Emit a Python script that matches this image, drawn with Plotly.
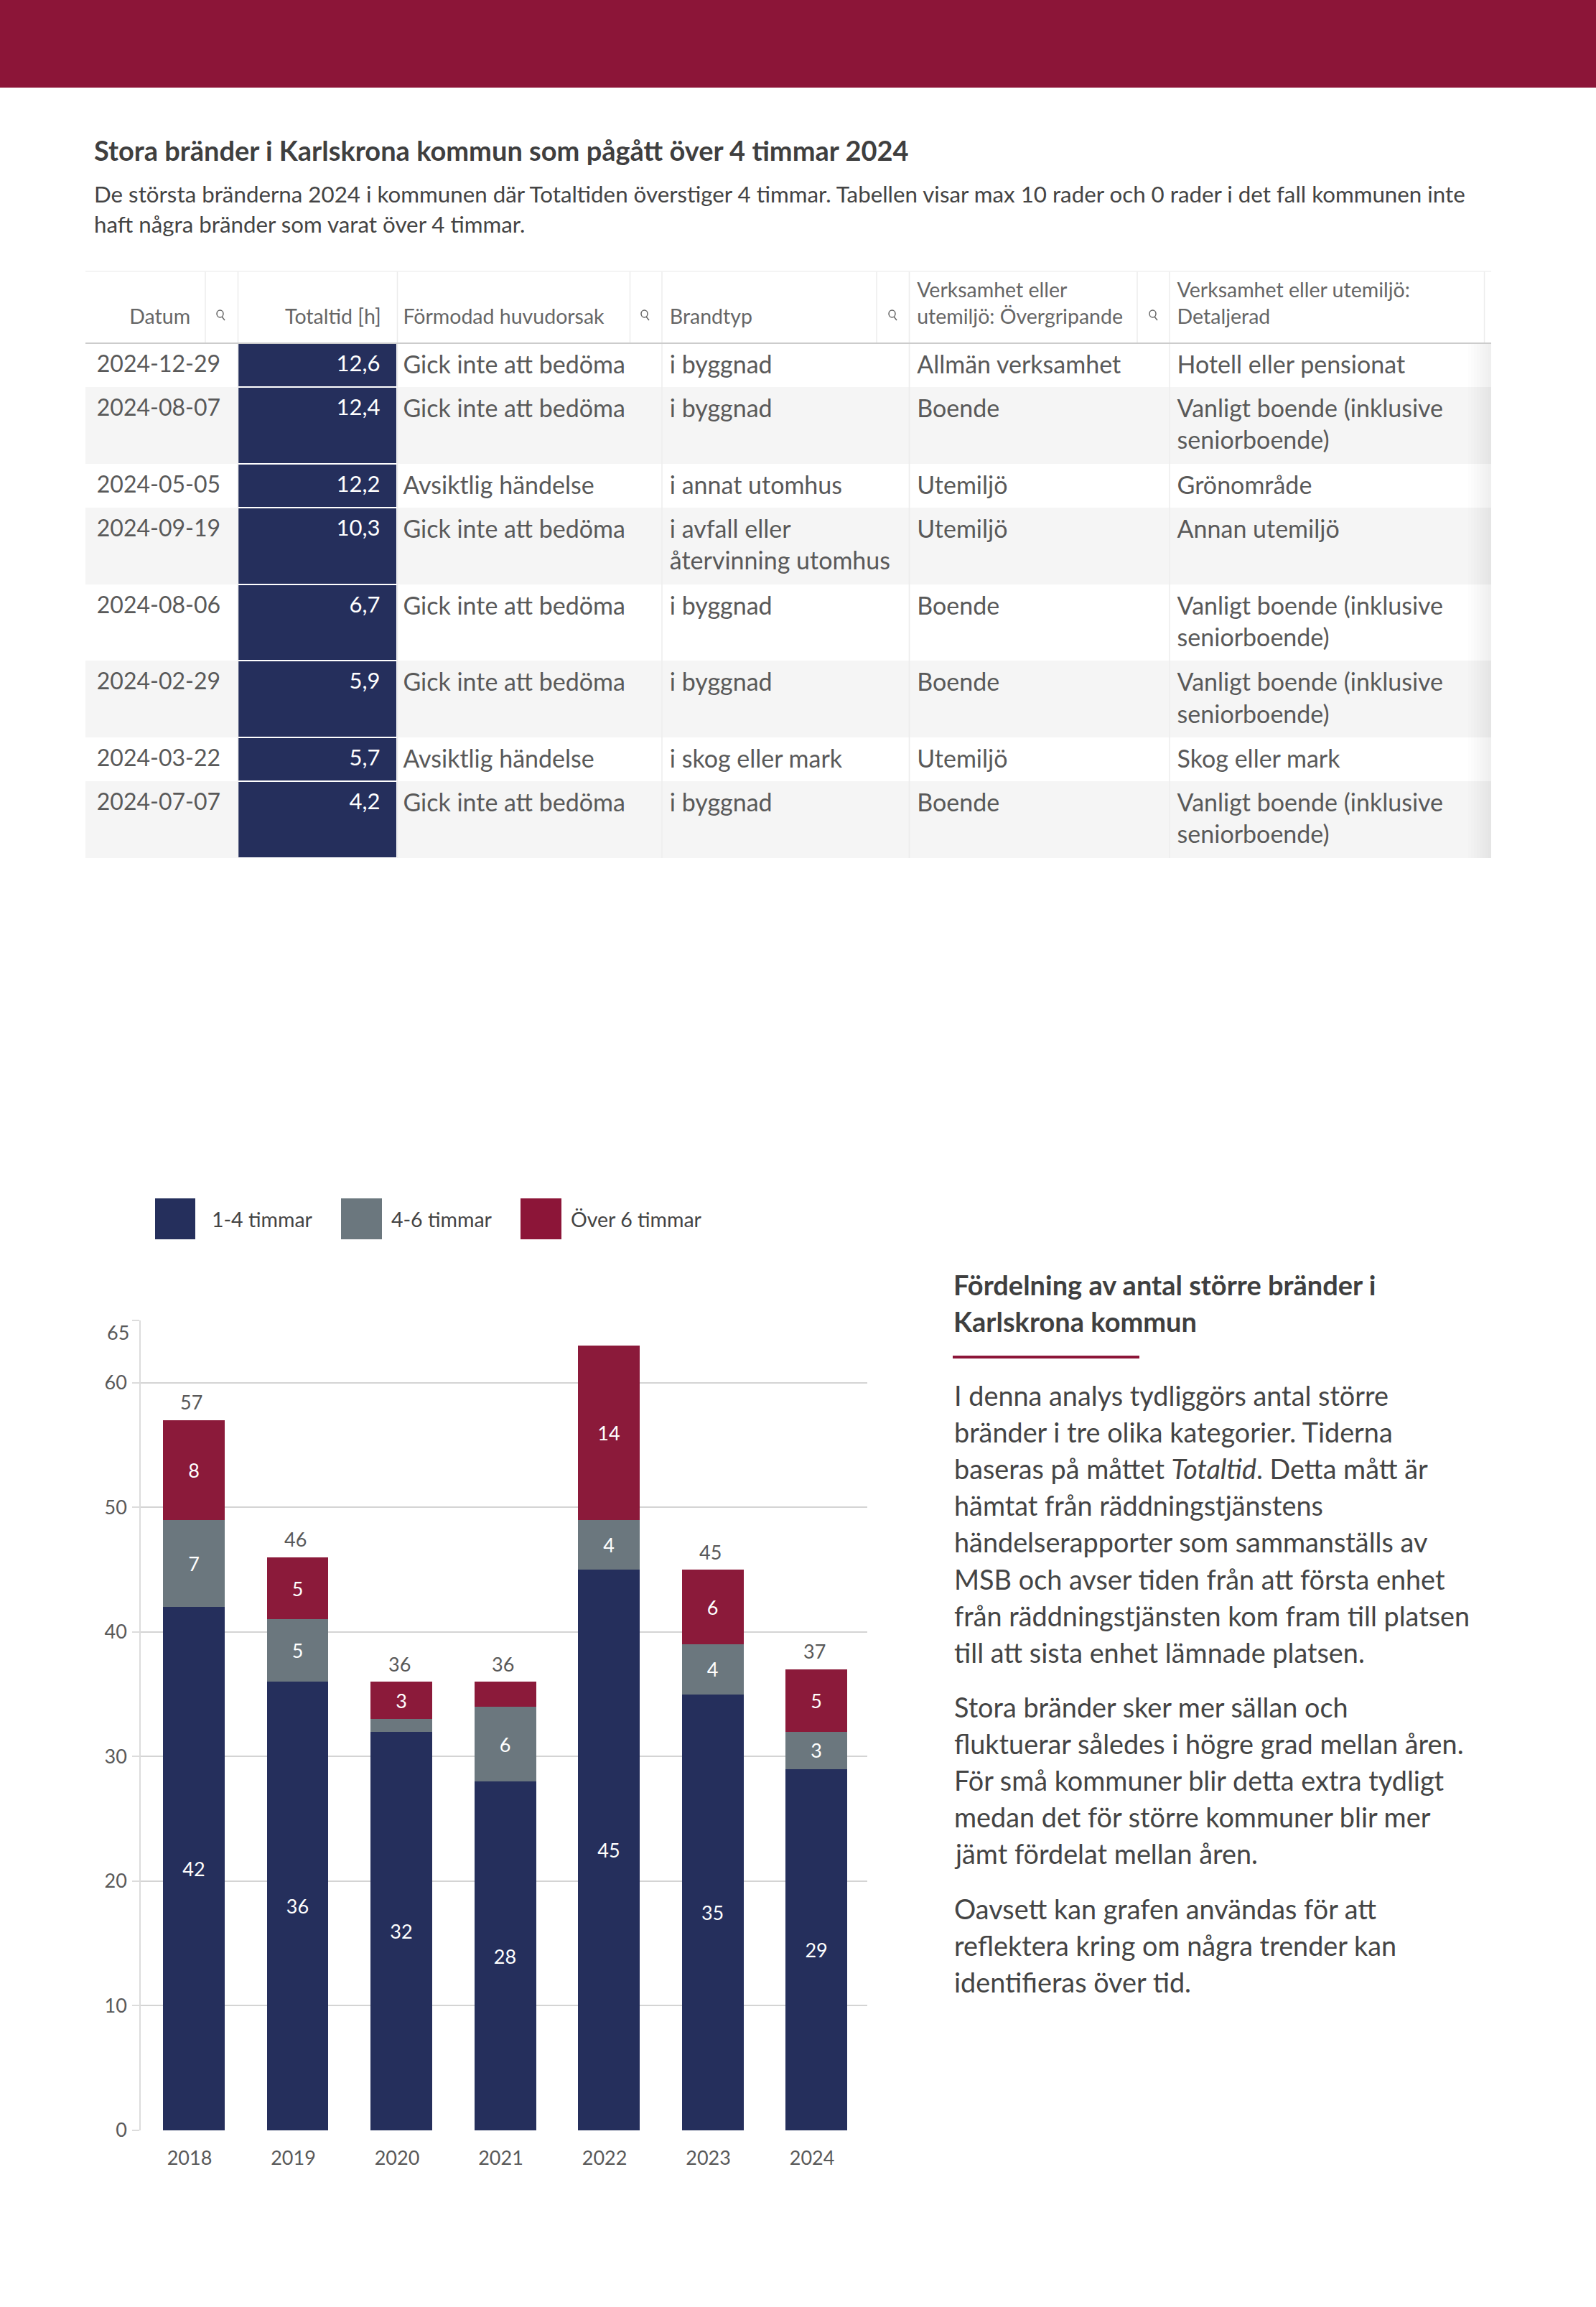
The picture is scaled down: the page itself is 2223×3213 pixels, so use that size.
import plotly.graph_objects as go

W, H = 2223, 3213
FONT = "Lato"
NAVY, GREY, CRIMSON = "#252f5c", "#6b777e", "#8b1a3a"
BANNER = "#8c1538"
TXT = "#595959"
DARK = "#3f3f3f"

# ---- table data
dates = ["2024-12-29","2024-08-07","2024-05-05","2024-09-19","2024-08-06","2024-02-29","2024-03-22","2024-07-07"]
totaltid = ["12,6","12,4","12,2","10,3","6,7","5,9","5,7","4,2"]
orsak = ["Gick inte att bedöma","Gick inte att bedöma","Avsiktlig händelse","Gick inte att bedöma","Gick inte att bedöma","Gick inte att bedöma","Avsiktlig händelse","Gick inte att bedöma"]
brandtyp = ["i byggnad","i byggnad","i annat utomhus","i avfall eller<br>återvinning utomhus","i byggnad","i byggnad","i skog eller mark","i byggnad"]
overgrip = ["Allmän verksamhet","Boende","Utemiljö","Utemiljö","Boende","Boende","Utemiljö","Boende"]
VB = "Vanligt boende (inklusive<br>seniorboende)"
detalj = ["Hotell eller pensionat",VB,"Grönområde","Annan utemiljö",VB,VB,"Skog eller mark",VB]
headers = ["\u00a0<br>Datum"+"\u00a0"*8,"\u00a0<br>Totaltid [h]\u00a0\u00a0","\u00a0<br>Förmodad huvudorsak","\u00a0<br>Brandtyp",
           "Verksamhet eller<br>utemiljö: Övergripande","Verksamhet eller utemiljö:<br>Detaljerad",""]

# ---- chart data
years = ["2018","2019","2020","2021","2022","2023","2024"]
h1_4 = [42,36,32,28,45,35,29]
h4_6 = [7,5,1,6,4,4,3]
h6 = [8,5,3,2,14,6,5]
totals_shown = [57,46,36,36,None,45,37]
yticks = [0,10,20,30,40,50,60,65]
series_names = ["1-4 timmar","4-6 timmar","Över 6 timmar"]

title = "Stora bränder i Karlskrona kommun som pågått över 4 timmar 2024"
sub_lines = ["De största bränderna 2024 i kommunen där Totaltiden överstiger 4 timmar. Tabellen visar max 10 rader och 0 rader i det fall kommunen inte",
             "haft några bränder som varat över 4 timmar."]
heading_lines = ["Fördelning av antal större bränder i","Karlskrona kommun"]
para = [
 ["I denna analys tydliggörs antal större","bränder i tre olika kategorier. Tiderna","baseras på måttet <i>Totaltid</i>. Detta mått är",
  "hämtat från räddningstjänstens","händelserapporter som sammanställs av","MSB och avser tiden från att första enhet",
  "från räddningstjänsten kom fram till platsen","till att sista enhet lämnade platsen."],
 ["Stora bränder sker mer sällan och","fluktuerar således i högre grad mellan åren.","För små kommuner blir detta extra tydligt",
  "medan det för större kommuner blir mer","jämt fördelat mellan åren."],
 ["Oavsett kan grafen användas för att","reflektera kring om några trender kan","identifieras över tid."],
]

def px(x): return x / W
def py(y): return 1 - y / H

two_line = ["<br>" in b or "<br>" in d for b, d in zip(brandtyp, detalj)]
def cell_text(col, end=""):
    out = []
    for v, t in zip(col, two_line):
        lines = v.split("<br>")
        if t:
            if len(lines) == 1:
                lines.append("\u00a0")
            out.append("<br>".join(l + end for l in lines))
        else:
            out.append(lines[0] + end + "<br>")
    return out

fig = go.Figure()

cell_vals = [cell_text(dates, "\u00a0\u00a0"), cell_text(totaltid, "\u00a0\u00a0"), cell_text(orsak),
             cell_text(brandtyp), cell_text(overgrip), cell_text(detalj)]
cell_vals.append(["\u00a0<br>\u00a0" if t else "" for t in two_line])   # sets the height of two-line rows

stripe = ["#ffffff" if i % 2 == 0 else "#f5f5f5" for i in range(len(dates))]
aligns = ["right","right","left","left","left","left","left"]
fig.add_trace(go.Table(
    domain=dict(x=[px(119), px(2077)], y=[py(1196), py(378)]),
    columnwidth=[212.5,222,371.5,344.5,362.5,438.5,7],
    header=dict(values=headers, height=100, align=aligns, fill_color="#ffffff", line_width=0,
                font=dict(family=FONT, size=28.5, color="#666666")),
    cells=dict(values=cell_vals, height=61, align=aligns,
               fill_color=[stripe,[NAVY]*len(dates),stripe,stripe,stripe,stripe,stripe],
               line=dict(color=["#ffffff"]*7, width=[0,2,0,0,0,0,0]),
               font=dict(family=FONT, size=[32,31,34,34,34,34,36],
                         color=[TXT,"#ffffff",TXT,TXT,TXT,TXT,TXT])),
))

for name, vals, col in zip(series_names, [h1_4,h4_6,h6], [NAVY,GREY,CRIMSON]):
    fig.add_trace(go.Bar(x=years, y=vals, name=name, marker=dict(color=col, line_width=0), width=0.595,
                         text=[str(v) if v >= 3 else "" for v in vals], textposition="inside",
                         insidetextanchor="middle", textangle=0, constraintext="none",
                         textfont=dict(family=FONT, size=27, color="#ffffff"), showlegend=False,
                         hoverinfo="skip"))

shapes = [dict(type="rect", xref="paper", yref="paper", x0=0, x1=1, y0=py(122), y1=1, fillcolor=BANNER, line_width=0, layer="below")]
def vline(x, y0, y1, c="#ececec", w=1.5):
    shapes.append(dict(type="line", xref="paper", yref="paper", x0=px(x), x1=px(x), y0=py(y0), y1=py(y1), line=dict(color=c, width=w)))
def hline(y, x0, x1, c="#cccccc", w=2):
    shapes.append(dict(type="line", xref="paper", yref="paper", x0=px(x0), x1=px(x1), y0=py(y), y1=py(y), line=dict(color=c, width=w)))

for x in [286,877.5,1221,1584,2067.5]:
    vline(x, 378, 478)
for x in [331.5,553.5,922,1266.5,1629]:
    vline(x, 378, 1195)
hline(378, 119, 2077, "#f0f0f0", 1.5)
hline(478, 119, 2077, "#cccccc", 2)
for x in [308, 899, 1244, 1607]:
    y = 438
    shapes.append(dict(type="circle", xref="paper", yref="paper", x0=px(x-6), x1=px(x+3), y0=py(y+4), y1=py(y-6), line=dict(color="#666666", width=1.5)))
    shapes.append(dict(type="line", xref="paper", yref="paper", x0=px(x+1), x1=px(x+5), y0=py(y+3), y1=py(y+8), line=dict(color="#666666", width=1.5)))
# soft fade at the right edge of the table body
for i in range(8):
    shapes.append(dict(type="rect", xref="paper", yref="paper", x0=px(2045 + i*4), x1=px(2077), y0=py(1195), y1=py(479),
                       fillcolor="rgba(0,0,0,0.006)", line_width=0))

# legend swatches
for (a, b), col in zip([(216,272),(475,532),(725,782)], [NAVY,GREY,BANNER]):
    shapes.append(dict(type="rect", xref="paper", yref="paper", x0=px(a), x1=px(b), y0=py(1726), y1=py(1669), fillcolor=col, line_width=0))
# rule under heading
shapes.append(dict(type="rect", xref="paper", yref="paper", x0=px(1327), x1=px(1587), y0=py(1892), y1=py(1888), fillcolor=BANNER, line_width=0))

ann = []
def text(x, y, s, size, color=DARK, bold=False, anchor="left"):
    ann.append(dict(xref="paper", yref="paper", x=px(x), y=py(y), text=f"<b>{s}</b>" if bold else s, showarrow=False,
                    xanchor=anchor, yanchor="middle", align=anchor,
                    font=dict(family=FONT, size=size, color=color)))
text(129, 209, title, 38, DARK, True)
for i, l in enumerate(sub_lines):
    text(129, 270 + i*41.5, l, 31.3, "#444444")
for x, s in zip([292.5,542.5,793], series_names):
    text(x, 1698, s, 28.5, "#444444")
for i, l in enumerate(heading_lines):
    text(1326, 1789 + i*51, l, 38, DARK, True)
ystart = [1943, 2377, 2658]
for ys, p in zip(ystart, para):
    for i, l in enumerate(p):
        text(1327, ys + i*51.2, l, 37.8, "#444444")
# totals above bars
for i, t in enumerate(totals_shown):
    if t is not None:
        ann.append(dict(xref="x", yref="y", x=i, y=t, text=str(t), showarrow=False, xshift=-3, yshift=25,
                        xanchor="center", yanchor="middle", font=dict(family=FONT, size=27, color=TXT)))
# top tick label sits below its grid line
ann.append(dict(xref="paper", yref="y", x=px(182), y=65, text="65", showarrow=False, yshift=-16, xanchor="right", yanchor="middle",
                font=dict(family=FONT, size=27, color=TXT)))

fig.update_layout(
    width=W, height=H, margin=dict(l=0, r=0, t=0, b=0, autoexpand=False), autosize=False,
    paper_bgcolor="#ffffff", plot_bgcolor="#ffffff", barmode="stack", showlegend=False,
    font=dict(family=FONT), shapes=shapes, annotations=ann,
    xaxis=dict(automargin=False, domain=[px(196), px(1208)], range=[-0.512, 6.491], type="category", showgrid=False, zeroline=False,
               ticks="", showline=False, tickfont=dict(family=FONT, size=27, color=TXT), ticklabelshift=-6, ticklabelstandoff=20),
    yaxis=dict(automargin=False, domain=[py(2967), py(1839)], range=[0, 65], tickvals=yticks,
               ticktext=[str(v) if v != 65 else " " for v in yticks], showgrid=True, gridcolor="#d4d4d4", gridwidth=2,
               zeroline=False, showline=True, linecolor="#dcdcdc", linewidth=1.5, ticks="outside", ticklen=10, tickcolor="#dcdcdc",
               tickwidth=1.5, tickfont=dict(family=FONT, size=27, color=TXT), ticklabelstandoff=2),
)
fig.write_html("out.html", config={"displayModeBar": False}, post_script="document.body.style.margin='0';")
